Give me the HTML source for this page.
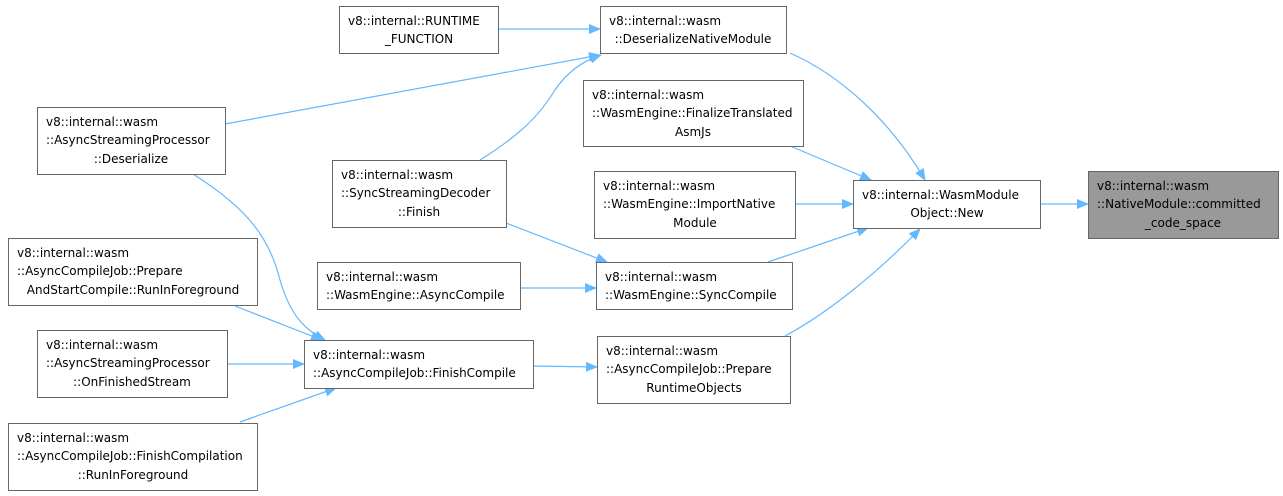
<!DOCTYPE html>
<html><head><meta charset="utf-8"><style>
html,body{margin:0;padding:0;background:#fff;}
svg{display:block;}
text{font-family:"DejaVu Sans","Liberation Sans",sans-serif;font-size:12px;fill:#000;}
.b{fill:#fff;stroke:#666;stroke-width:1;}
.e{fill:none;stroke:#63b8ff;stroke-width:1.2;}
</style></head><body>
<svg width="1283" height="496" viewBox="0 0 1283 496" xmlns="http://www.w3.org/2000/svg">
<defs><marker id="a" markerWidth="12" markerHeight="10" refX="11" refY="5" orient="auto" markerUnits="userSpaceOnUse"><path d="M0,0 L12,5 L0,10 z" fill="#63b8ff"/></marker></defs>

<!-- edges -->
<path class="e" marker-end="url(#a)" d="M498,29 L600,29"/>
<path class="e" marker-end="url(#a)" d="M225,124 L600,55"/>
<path class="e" marker-end="url(#a)" d="M480,160 C520,135 540,115 555,90 C565,75 580,62 601,55"/>
<path class="e" marker-end="url(#a)" d="M790,53 C840,75 890,120 925,180"/>
<path class="e" marker-end="url(#a)" d="M790,146 L871,180"/>
<path class="e" marker-end="url(#a)" d="M795,204 L853,204"/>
<path class="e" marker-end="url(#a)" d="M768,262 L868,228"/>
<path class="e" marker-end="url(#a)" d="M785,336 C830,312 880,270 920,229"/>
<path class="e" marker-end="url(#a)" d="M1040,204 L1088,204"/>
<path class="e" marker-end="url(#a)" d="M506,223 L607,262"/>
<path class="e" marker-end="url(#a)" d="M520,288 L596,288"/>
<path class="e" marker-end="url(#a)" d="M533,366 L597,367"/>
<path class="e" marker-end="url(#a)" d="M193,174 C250,210 270,240 280,280 C290,315 305,330 325,340"/>
<path class="e" marker-end="url(#a)" d="M235,306 L322,340"/>
<path class="e" marker-end="url(#a)" d="M227,364 L304,364"/>
<path class="e" marker-end="url(#a)" d="M240,422 L336,388"/>

<!-- nodes -->
<rect class="b" x="339.5" y="6.5" width="159" height="47"/>
<text x="348" y="25">v8::internal::RUNTIME</text>
<text x="419" y="43" text-anchor="middle">_FUNCTION</text>

<rect class="b" x="600.5" y="6.5" width="186" height="47"/>
<text x="609" y="25">v8::internal::wasm</text>
<text x="693" y="43" text-anchor="middle">::DeserializeNativeModule</text>

<rect class="b" x="37.5" y="107.5" width="188" height="67"/>
<text x="46" y="126">v8::internal::wasm</text>
<text x="46" y="144">::AsyncStreamingProcessor</text>
<text x="131" y="163" text-anchor="middle">::Deserialize</text>

<rect class="b" x="583.5" y="80.5" width="220" height="66"/>
<text x="592" y="99">v8::internal::wasm</text>
<text x="592" y="117">::WasmEngine::FinalizeTranslated</text>
<text x="693" y="136" text-anchor="middle">AsmJs</text>

<rect class="b" x="332.5" y="160.5" width="174" height="67"/>
<text x="341" y="179">v8::internal::wasm</text>
<text x="341" y="197">::SyncStreamingDecoder</text>
<text x="419" y="216" text-anchor="middle">::Finish</text>

<rect class="b" x="594.5" y="171.5" width="201" height="67"/>
<text x="603" y="190">v8::internal::wasm</text>
<text x="603" y="208">::WasmEngine::ImportNative</text>
<text x="695" y="227" text-anchor="middle">Module</text>

<rect class="b" x="853.5" y="180.5" width="187" height="48"/>
<text x="862" y="199">v8::internal::WasmModule</text>
<text x="947" y="217" text-anchor="middle">Object::New</text>

<rect x="1088.5" y="171.5" width="190" height="67" fill="#999" stroke="#666"/>
<text x="1097" y="190">v8::internal::wasm</text>
<text x="1097" y="208">::NativeModule::committed</text>
<text x="1183" y="227" text-anchor="middle">_code_space</text>

<rect class="b" x="8.5" y="238.5" width="249" height="67"/>
<text x="17" y="257">v8::internal::wasm</text>
<text x="17" y="275">::AsyncCompileJob::Prepare</text>
<text x="133" y="294" text-anchor="middle">AndStartCompile::RunInForeground</text>

<rect class="b" x="317.5" y="262.5" width="203" height="47"/>
<text x="326" y="281">v8::internal::wasm</text>
<text x="326" y="299">::WasmEngine::AsyncCompile</text>

<rect class="b" x="596.5" y="262.5" width="196" height="47"/>
<text x="605" y="281">v8::internal::wasm</text>
<text x="605" y="299">::WasmEngine::SyncCompile</text>

<rect class="b" x="37.5" y="330.5" width="190" height="67"/>
<text x="46" y="349">v8::internal::wasm</text>
<text x="46" y="367">::AsyncStreamingProcessor</text>
<text x="132" y="386" text-anchor="middle">::OnFinishedStream</text>

<rect class="b" x="304.5" y="340.5" width="229" height="48"/>
<text x="313" y="359">v8::internal::wasm</text>
<text x="313" y="377">::AsyncCompileJob::FinishCompile</text>

<rect class="b" x="597.5" y="336.5" width="193" height="67"/>
<text x="606" y="355">v8::internal::wasm</text>
<text x="606" y="373">::AsyncCompileJob::Prepare</text>
<text x="694" y="392" text-anchor="middle">RuntimeObjects</text>

<rect class="b" x="8.5" y="423.5" width="249" height="67"/>
<text x="17" y="442">v8::internal::wasm</text>
<text x="17" y="460">::AsyncCompileJob::FinishCompilation</text>
<text x="133" y="479" text-anchor="middle">::RunInForeground</text>
</svg>
</body></html>
